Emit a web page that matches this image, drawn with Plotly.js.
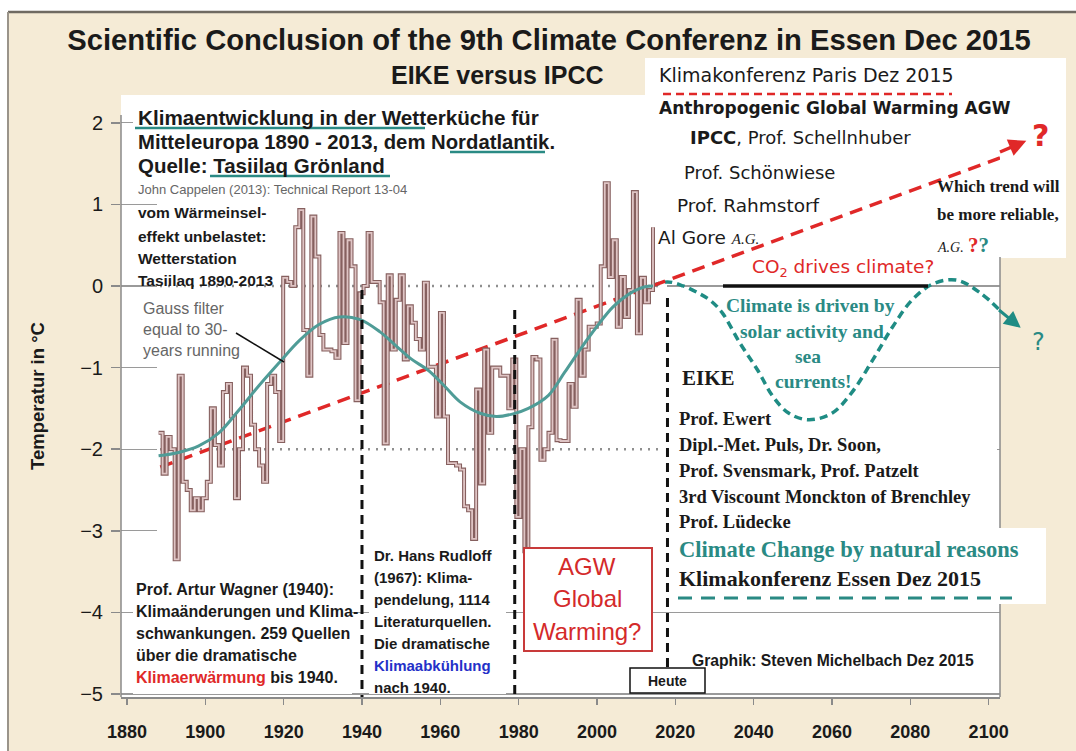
<!DOCTYPE html>
<html><head><meta charset="utf-8">
<script src="https://cdn.plot.ly/plotly-3.0.1.min.js"></script>
<style>html,body{margin:0;padding:0;background:#fff}#chart{width:1076px;height:751px}</style>
</head><body><div id="chart"></div>
<script>
// ---------------- DATA ----------------
const firstYear = 1890;
const temps = [
 -1.8, -2.3, -1.85, -2.0, -3.35, -1.1, -2.4, -2.5, -2.75, -2.6,
 -2.75, -2.6, -2.4, -1.5, -1.95, -2.2, -1.3, -1.2, -1.6, -2.6,
 -2.0, -1.0, -1.1, -1.7, -2.0, -2.2, -2.4, -1.2, -1.1, -1.3,
 -1.9, 0.1, 0.05, 0.0, 0.72, 0.93, -0.54, -1.1, 0.85, 0.36,
 -0.6, -0.78, -0.78, -0.8, -0.88, 0.65, -0.7, 0.56, 0.24, -1.4,
 -0.09, 0.0, 0.65, 0.05, 0.05, -0.2, -1.93, 0.13, -0.78, -0.17,
 0.13, -0.9, -0.25, -0.45, -0.65, -0.78, 0.04, -0.99, -0.99, -1.6,
 -0.33, -1.6, -2.17, -2.17, -2.2, -2.25, -2.7, -2.75, -3.1, -1.27,
 -2.42, -0.78, -1.8, -1.0, -1.0, -1.1, -1.1, -1.5, -0.9, -2.83,
 -2.0, -3.25, -1.73, -0.87, -0.9, -2.13, -2.0, -1.8, -0.66, -1.89,
 -1.9, -1.9, -1.2, -1.48, -0.17, -1.1, -0.78, -0.5, -0.5, -0.46,
 0.24, 1.26, 0.11, 0.56, -0.5, 0.11, -0.38, -0.05, 1.15, -0.58,
 0.1, -0.2, -0.05, 0.72
];
const years = temps.map((_, i) => firstYear + i);

const gaussYears = [1890,1895,1900,1905,1910,1915,1920,1925,1930,1935,1940,1945,1949,1953,1957,1961,1965,1970,1974,1978,1982,1987,1991,1995,1999,2003,2007,2011,2013];
const gaussVals  = [-2.08,-2.04,-1.96,-1.8,-1.52,-1.22,-0.94,-0.67,-0.47,-0.38,-0.41,-0.56,-0.73,-0.9,-1.03,-1.22,-1.42,-1.56,-1.6,-1.57,-1.5,-1.34,-1.06,-0.77,-0.5,-0.26,-0.1,-0.01,0.0];

const futureYears = [2014,2018,2022,2026,2029,2032,2036.5,2041,2045,2049,2054,2060,2065,2070.5,2075.5,2080.5,2086,2092,2098,2102.9];
const futureVals  = [0.0,0.05,0.0,-0.09,-0.18,-0.33,-0.7,-1.03,-1.36,-1.56,-1.64,-1.56,-1.31,-0.9,-0.5,-0.17,0.03,0.07,-0.09,-0.3];

const trendYears = [1888.5, 2102.9];
const trendVals  = [-2.22, 1.57];

const xTickVals = [1880,1900,1920,1940,1960,1980,2000,2020,2040,2060,2080,2100];
const yTickVals = [-5,-4,-3,-2,-1,0,1,2];
const markerYears = [1940, 1979, 2018];   // Wagner 1940, Rudloff end, "Heute"

// ---------------- GEOMETRY ----------------
const W = 1076, H = 751, L = 121, R = 1000, T = 95, B = 697;
const XR = [1878.47, 2102.9], YR = [-5.037, 2.34], XR2 = [1880.65, 2099.33];
const pxX = px => (px - L) / (R - L);
const pxY = py => (B - py) / (B - T);
const dX = px => XR[0] + (px - L) / (R - L) * (XR[1] - XR[0]);
const dY = py => YR[1] - (py - T) / (B - T) * (YR[1] - YR[0]);

const SANS = 'Liberation Sans, Arial, sans-serif';
const SERIF = 'Liberation Serif, Times New Roman, serif';
const COMIC = 'DejaVu Sans, sans-serif';
const TEAL = '#2a8a84', RED = '#e02828', BEIGE = '#f5ebd6';

const shapes = [];
function pRect(x0, y0, x1, y1, fill, line, layer) {
  shapes.push({type:'rect', xref:'paper', yref:'paper', x0:pxX(x0), x1:pxX(x1), y0:pxY(y1), y1:pxY(y0),
    fillcolor:fill, line:line || {width:0}, layer:layer || 'below'});
}
function pLine(x0, y0, x1, y1, line, layer) {
  shapes.push({type:'line', xref:'paper', yref:'paper', x0:pxX(x0), y0:pxY(y0), x1:pxX(x1), y1:pxY(y1), line:line, layer:layer || 'above'});
}
function dRect(x0, y0, x1, y1, fill, layer) {
  shapes.push({type:'rect', xref:'x', yref:'y', x0:dX(x0), x1:dX(x1), y0:dY(y1), y1:dY(y0), fillcolor:fill, line:{width:0}, layer:layer || 'between'});
}

// frame
pRect(0, 0, W, 12, '#ffffff');
pRect(0, 0, 8, H, '#ffffff');
pLine(8, 12, W, 12, {color:'#6f6a62', width:2.5}, 'below');
pLine(8, 12, 8, H, {color:'#9a948a', width:2}, 'below');
// white area at top right
pRect(645, 58, 1066, 258, '#ffffff');

// covers for the grid lines (between grid and traces)
dRect(157, 95, 667, 567, '#ffffff');
dRect(133, 95, 157, 195, '#ffffff');
dRect(645, 95, 1000, 262, '#ffffff');
dRect(667, 360, 866, 535, '#ffffff');
dRect(866, 373, 997, 535, '#ffffff');
dRect(133, 567, 352, 694, '#ffffff');
dRect(369, 567, 506, 694, '#ffffff');

// dotted reference lines of the inserted Tasiilaq chart
shapes.push({type:'line', xref:'x', yref:'y', x0:dX(160), x1:dX(662), y0:0, y1:0, line:{color:'#8f8f8f', width:2.5, dash:'2px,6px'}, layer:'between'});
shapes.push({type:'line', xref:'x', yref:'y', x0:dX(160), x1:dX(660), y0:-2, y1:-2, line:{color:'#8f8f8f', width:2.5, dash:'2px,6px'}, layer:'between'});

// axis lines
pLine(L, 115, L, B, {color:'#8a8a8a', width:1.5});
pLine(R, 257, R, B, {color:'#8a8a8a', width:1.5});

// vertical black dashed markers
shapes.push({type:'line', xref:'x', yref:'y', x0:markerYears[0], x1:markerYears[0], y0:dY(290), y1:YR[0], line:{color:'#111', width:3, dash:'9px,6px'}, layer:'above'});
shapes.push({type:'line', xref:'x', yref:'y', x0:markerYears[1], x1:markerYears[1], y0:dY(310), y1:YR[0], line:{color:'#111', width:3, dash:'9px,6px'}, layer:'above'});
shapes.push({type:'line', xref:'x', yref:'y', x0:markerYears[2], x1:markerYears[2], y0:dY(298), y1:dY(668), line:{color:'#111', width:3, dash:'9px,6px'}, layer:'above'});

// black base line at 0 under "CO2 drives climate?"
shapes.push({type:'line', xref:'x', yref:'y', x0:dX(723), x1:dX(928), y0:0, y1:0, line:{color:'#111', width:3.5}, layer:'above'});

// boxes
pRect(524, 548, 652, 651, '#ffffff', {color:'#c83a3a', width:2}, 'above');
pRect(630, 668, 705, 693, '#ffffff', {color:'#111', width:1.5}, 'above');
pRect(670, 528, 1046, 604, '#ffffff', {width:0}, 'above');
pLine(678, 598, 1012, 598, {color:TEAL, width:3, dash:'14px,9px'});

// underlines and leader lines
pLine(663, 94, 952, 94, {color:RED, width:2.5, dash:'8px,5px'});
pLine(135, 128, 425, 128, {color:TEAL, width:2.5});
pLine(450, 152, 545, 152, {color:TEAL, width:2.5});
pLine(210, 176, 390, 176, {color:TEAL, width:2.5});
pLine(236, 333, 284, 362, {color:'#111', width:1.5});

// ---------------- TEXT ----------------
const annotations = [];
function txt(text, px, py, size, o) {
  o = o || {};
  annotations.push({
    text: text, xref:'paper', yref:'paper', x:pxX(px), y:pxY(py),
    xanchor:o.anchor || 'left', yanchor:'middle', showarrow:false,
    font:{family:o.family || SANS, size:size, color:o.color || '#1a1a1a', weight:o.weight || 'normal'}
  });
}
txt('EIKE versus IPCC', 497, 75, 25, {anchor:'center', weight:'bold'});

// left texts
txt('Klimaentwicklung in der Wetterküche für', 136, 118, 20.7, {weight:'bold'});
txt('Mitteleuropa 1890 - 2013, dem Nordatlantik.', 136, 142, 20.3, {weight:'bold'});
txt('Quelle: Tasiilaq Grönland', 136, 165, 20.5, {weight:'bold'});
txt('John Cappelen (2013): Technical Report 13-04', 136, 189, 13, {color:'#666'});
txt('vom Wärmeinsel-', 136, 213, 15.5, {weight:'bold'});
txt('effekt unbelastet:', 136, 236, 15.5, {weight:'bold'});
txt('Wetterstation', 136, 258, 15.5, {weight:'bold'});
txt('Tasiilaq 1890-2013', 136, 280, 15.5, {weight:'bold'});
txt('Gauss filter', 141, 308, 16, {color:'#666'});
txt('equal to 30-', 141, 329, 16, {color:'#666'});
txt('years running', 141, 350, 16, {color:'#666'});

txt('Prof. Artur Wagner (1940):', 134, 589, 16, {weight:'bold'});
txt('Klimaänderungen und Klima-', 134, 611, 16, {weight:'bold'});
txt('schwankungen. 259 Quellen', 134, 633, 16, {weight:'bold'});
txt('über die dramatische', 134, 655, 16, {weight:'bold'});
txt('<span style="color:#e02828">Klimaerwärmung</span> bis 1940.', 134, 677, 16, {weight:'bold'});

txt('Dr. Hans Rudloff', 372, 555, 15, {weight:'bold'});
txt('(1967): Klima-', 372, 577, 15, {weight:'bold'});
txt('pendelung, 1114', 372, 599, 15, {weight:'bold'});
txt('Literaturquellen.', 372, 621, 15, {weight:'bold'});
txt('Die dramatische', 372, 643, 15, {weight:'bold'});
txt('<span style="color:#2430c8">Klimaabkühlung</span>', 372, 665, 15, {weight:'bold'});
txt('nach 1940.', 372, 687, 15, {weight:'bold'});

txt('AGW', 587, 566, 24, {anchor:'center', color:'#d42a2a'});
txt('Global', 587, 598, 24, {anchor:'center', color:'#d42a2a'});
txt('Warming?', 587, 631, 24, {anchor:'center', color:'#d42a2a'});
txt('Heute', 667, 681, 14, {anchor:'center', weight:'bold'});
txt('Graphik: Steven Michelbach Dez 2015', 690, 660, 15.7, {weight:'bold'});

// IPCC block
txt('Klimakonferenz Paris Dez 2015', 657, 75, 19, {family:COMIC});
txt('Anthropogenic Global Warming AGW', 657, 108, 17, {family:COMIC, weight:'bold'});
txt('<b>IPCC</b>, Prof. Schellnhuber', 688, 138, 18, {family:COMIC});
txt('Prof. Schönwiese', 682, 172, 18, {family:COMIC});
txt('Prof. Rahmstorf', 675, 205, 18.5, {family:COMIC});
txt('Al Gore <span style="font-family:\'Liberation Serif\';font-style:italic;font-size:15px">A.G.</span>', 656, 238, 18.5, {family:COMIC});
txt('CO<sub>2</sub> drives climate?', 750, 268, 18.5, {family:COMIC, color:RED});
txt('Which trend will', 935, 186, 17, {family:SERIF, weight:'bold'});
txt('be more reliable,', 935, 214, 17, {family:SERIF, weight:'bold'});
txt('<span style="font-style:italic;font-weight:normal;font-size:14px">A.G.</span> <span style="color:#e02828;font-size:21px">?</span><span style="color:#2a8a84;font-size:21px">?</span>', 935, 245, 17, {family:SERIF, weight:'bold'});

// question marks with the arrowheads of the two trends pointing at them
annotations.push({text:'?', xref:'paper', yref:'paper', x:pxX(1000), y:pxY(152), ax:40, ay:-17,
  showarrow:true, arrowside:'start', startarrowhead:2, startarrowsize:1, arrowwidth:3.5, arrowcolor:RED, startstandoff:4,
  font:{family:COMIC, size:30, color:RED, weight:'bold'}});
annotations.push({text:'?', xref:'paper', yref:'paper', x:pxX(999), y:pxY(310), ax:39, ay:32,
  showarrow:true, arrowside:'start', startarrowhead:2, startarrowsize:1.1, arrowwidth:3, arrowcolor:'#1f8c84', startstandoff:12,
  font:{family:COMIC, size:24, color:TEAL}});

// EIKE block
txt('Climate is driven by', 810, 305, 19.5, {anchor:'center', family:SERIF, weight:'bold', color:TEAL});
txt('solar activity and', 812, 331, 19.5, {anchor:'center', family:SERIF, weight:'bold', color:TEAL});
txt('sea', 808, 356, 19.5, {anchor:'center', family:SERIF, weight:'bold', color:TEAL});
txt('currents!', 813, 381, 19.5, {anchor:'center', family:SERIF, weight:'bold', color:TEAL});
txt('EIKE', 680, 378, 21, {family:SERIF, weight:'bold'});
txt('Prof. Ewert', 677, 419, 18.5, {family:SERIF, weight:'bold'});
txt('Dipl.-Met. Puls, Dr. Soon,', 677, 445, 18.5, {family:SERIF, weight:'bold'});
txt('Prof. Svensmark, Prof. Patzelt', 677, 471, 18.5, {family:SERIF, weight:'bold'});
txt('3rd Viscount Monckton of Brenchley', 677, 497, 18.5, {family:SERIF, weight:'bold'});
txt('Prof. Lüdecke', 677, 522, 18.5, {family:SERIF, weight:'bold'});
txt('Climate Change by natural reasons', 677, 549, 22.5, {family:SERIF, weight:'bold', color:TEAL});
txt('Klimakonferenz Essen Dez 2015', 677, 578, 22, {family:SERIF, weight:'bold'});

// ---------------- TRACES ----------------
const traces = [
  {x:years, y:temps, xaxis:'x2', yaxis:'y', mode:'lines', line:{shape:'hv', color:'#86605f', width:4}, hoverinfo:'skip'},
  {x:years, y:temps, xaxis:'x2', yaxis:'y', mode:'lines', line:{shape:'hv', color:'#dfc4c4', width:1.8}, hoverinfo:'skip'},
  {x:gaussYears, y:gaussVals, xaxis:'x2', yaxis:'y', mode:'lines', line:{shape:'spline', color:'#4f9c97', width:3}, hoverinfo:'skip'},
  {x:futureYears, y:futureVals, mode:'lines', line:{shape:'spline', color:'#1f8c84', width:3.5, dash:'8px,5px'}, hoverinfo:'skip'},
  {x:trendYears, y:trendVals, mode:'lines', line:{color:RED, width:3.5, dash:'13px,8px'}, hoverinfo:'skip'}
];

const layout = {
  width:W, height:H, paper_bgcolor:BEIGE, plot_bgcolor:'#ffffff',
  margin:{l:L, r:W - R, t:T, b:H - B, pad:0},
  showlegend:false, hovermode:false,
  title:{text:'<b>Scientific Conclusion of the 9th Climate Conferenz in Essen Dec 2015</b>', xref:'container', yref:'container',
    x:549 / W, xanchor:'center', y:1 - 40 / H, yanchor:'middle', font:{family:SANS, size:29.2, color:'#1a1a1a'}},
  xaxis:{range:XR, tickvals:xTickVals, showgrid:false, zeroline:false, showline:true, linecolor:'#8a8a8a', linewidth:1.5,
    ticks:'outside', ticklen:6, tickcolor:'#8a8a8a', tickwidth:1.5, ticklabelstandoff:12,
    tickfont:{family:SANS, size:18, color:'#1a1a1a', weight:'bold'}},
  xaxis2:{range:XR2, overlaying:'x', anchor:'y', visible:false, showgrid:false, zeroline:false},
  yaxis:{range:YR, tickvals:yTickVals, showgrid:true, gridcolor:'#9a9a9a', gridwidth:1.2, zeroline:false, showline:false,
    ticks:'outside', ticklen:9, tickcolor:'#8a8a8a', tickwidth:1.5, ticklabelstandoff:4,
    tickfont:{family:SANS, size:20, color:'#1a1a1a'},
    title:{text:'Temperatur in °C', standoff:30, font:{family:SANS, size:18.5, color:'#1a1a1a', weight:'bold'}}},
  shapes:shapes, annotations:annotations
};

Plotly.newPlot('chart', traces, layout, {displayModeBar:false, staticPlot:true});
</script>
</body></html>
